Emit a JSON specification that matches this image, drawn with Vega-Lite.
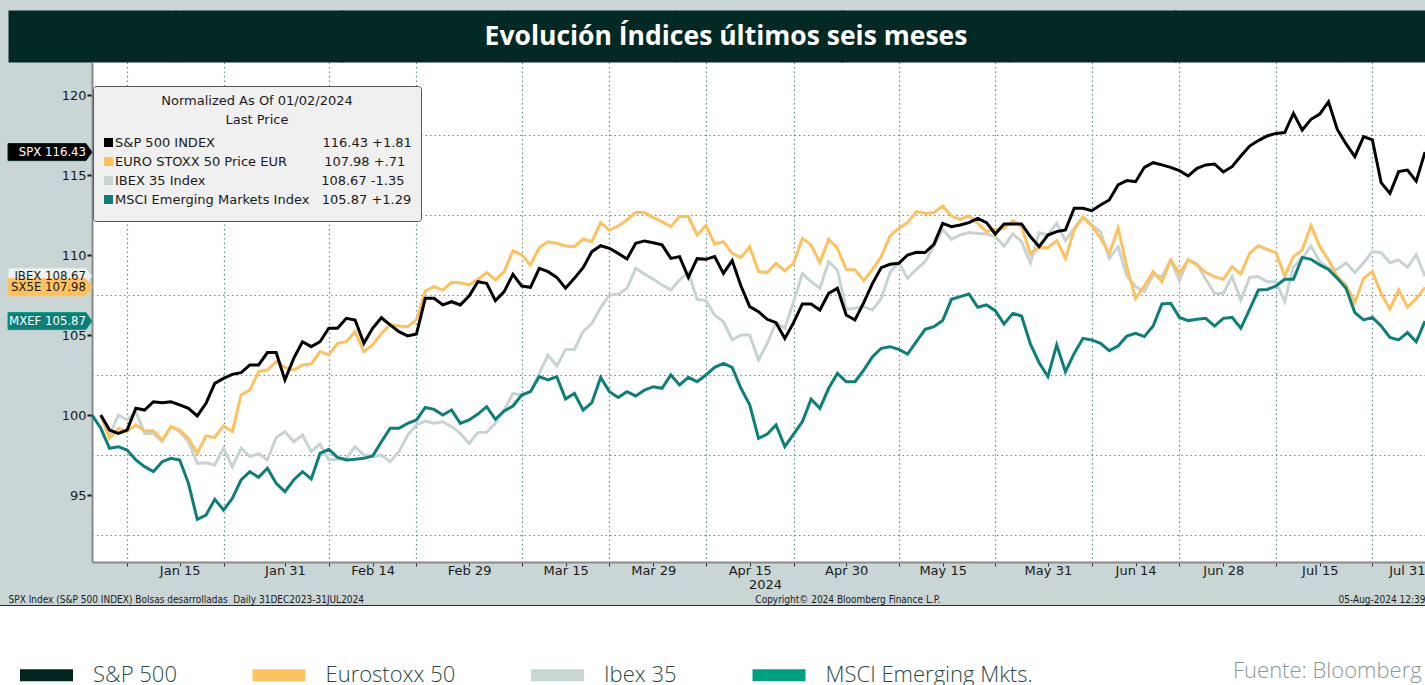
{
  "$schema": "https://vega.github.io/schema/vega-lite/v6.json",
  "width": 1333,
  "height": 500,
  "autosize": {"type": "none"},
  "padding": {"left": 92, "top": 62, "right": 0, "bottom": 123},
  "background": "#c9d6d5",
  "config": {"view": {"fill": "#ffffff", "stroke": null}, "font": "DejaVu Sans"},
  "data": {"values": [
    {"d":"2024-01-01","MXEF":100},
    {"d":"2024-01-02","SPX":100,"SX5E":100,"IBEX":100,"MXEF":99.17},
    {"d":"2024-01-03","SPX":99.06,"SX5E":98.54,"IBEX":98.75,"MXEF":97.92},
    {"d":"2024-01-04","SPX":98.85,"SX5E":99.17,"IBEX":100.0,"MXEF":98.02},
    {"d":"2024-01-05","SPX":99.06,"SX5E":98.96,"IBEX":99.69,"MXEF":97.81},
    {"d":"2024-01-08","SPX":100.42,"SX5E":99.38,"IBEX":100.21,"MXEF":97.19},
    {"d":"2024-01-09","SPX":100.31,"SX5E":99.02,"IBEX":98.85,"MXEF":96.77},
    {"d":"2024-01-10","SPX":100.83,"SX5E":99.02,"IBEX":98.85,"MXEF":96.46},
    {"d":"2024-01-11","SPX":100.77,"SX5E":98.44,"IBEX":98.33,"MXEF":97.08},
    {"d":"2024-01-12","SPX":100.83,"SX5E":99.27,"IBEX":99.27,"MXEF":97.29},
    {"d":"2024-01-15","SPX":100.63,"SX5E":99.06,"IBEX":98.96,"MXEF":97.19},
    {"d":"2024-01-16","SPX":100.42,"SX5E":98.54,"IBEX":98.33,"MXEF":95.73},
    {"d":"2024-01-17","SPX":99.94,"SX5E":97.6,"IBEX":96.98,"MXEF":93.48},
    {"d":"2024-01-18","SPX":100.73,"SX5E":98.69,"IBEX":97.02,"MXEF":93.75},
    {"d":"2024-01-19","SPX":101.98,"SX5E":98.6,"IBEX":96.88,"MXEF":94.73},
    {"d":"2024-01-22","SPX":102.29,"SX5E":99.33,"IBEX":97.92,"MXEF":94.06},
    {"d":"2024-01-23","SPX":102.54,"SX5E":98.96,"IBEX":96.77,"MXEF":94.79},
    {"d":"2024-01-24","SPX":102.65,"SX5E":101.25,"IBEX":97.92,"MXEF":95.94},
    {"d":"2024-01-25","SPX":103.13,"SX5E":101.56,"IBEX":97.4,"MXEF":96.46},
    {"d":"2024-01-26","SPX":103.13,"SX5E":102.71,"IBEX":97.6,"MXEF":96.1},
    {"d":"2024-01-29","SPX":103.9,"SX5E":102.81,"IBEX":97.19,"MXEF":96.67},
    {"d":"2024-01-30","SPX":103.9,"SX5E":103.33,"IBEX":98.6,"MXEF":95.73},
    {"d":"2024-01-31","SPX":102.19,"SX5E":102.98,"IBEX":98.96,"MXEF":95.21},
    {"d":"2024-02-01","SPX":103.54,"SX5E":102.81,"IBEX":98.33,"MXEF":95.94},
    {"d":"2024-02-02","SPX":104.58,"SX5E":103.13,"IBEX":98.75,"MXEF":96.46},
    {"d":"2024-02-05","SPX":104.27,"SX5E":103.19,"IBEX":97.71,"MXEF":96.0},
    {"d":"2024-02-06","SPX":104.58,"SX5E":103.96,"IBEX":98.19,"MXEF":97.6},
    {"d":"2024-02-07","SPX":105.42,"SX5E":103.75,"IBEX":97.19,"MXEF":97.85},
    {"d":"2024-02-08","SPX":105.42,"SX5E":104.48,"IBEX":97.23,"MXEF":97.35},
    {"d":"2024-02-09","SPX":106.04,"SX5E":104.58,"IBEX":97.29,"MXEF":97.19},
    {"d":"2024-02-12","SPX":105.94,"SX5E":105.21,"IBEX":98.02,"MXEF":97.23},
    {"d":"2024-02-13","SPX":104.48,"SX5E":103.96,"IBEX":97.5,"MXEF":97.29},
    {"d":"2024-02-14","SPX":105.42,"SX5E":104.38,"IBEX":97.4,"MXEF":97.44},
    {"d":"2024-02-15","SPX":106.08,"SX5E":105.1,"IBEX":97.5,"MXEF":98.33},
    {"d":"2024-02-16","SPX":105.63,"SX5E":105.63,"IBEX":97.08,"MXEF":99.17},
    {"d":"2024-02-19","SPX":105.21,"SX5E":105.56,"IBEX":97.71,"MXEF":99.17},
    {"d":"2024-02-20","SPX":104.94,"SX5E":105.52,"IBEX":98.75,"MXEF":99.48},
    {"d":"2024-02-21","SPX":105.06,"SX5E":105.94,"IBEX":99.38,"MXEF":99.69},
    {"d":"2024-02-22","SPX":107.29,"SX5E":107.75,"IBEX":99.62,"MXEF":100.47},
    {"d":"2024-02-23","SPX":107.29,"SX5E":108.02,"IBEX":99.48,"MXEF":100.35},
    {"d":"2024-02-26","SPX":106.88,"SX5E":107.81,"IBEX":99.58,"MXEF":100.0},
    {"d":"2024-02-27","SPX":107.08,"SX5E":108.29,"IBEX":99.27,"MXEF":100.31},
    {"d":"2024-02-28","SPX":106.88,"SX5E":108.27,"IBEX":98.85,"MXEF":99.48},
    {"d":"2024-02-29","SPX":107.44,"SX5E":108.13,"IBEX":98.23,"MXEF":99.69},
    {"d":"2024-03-01","SPX":108.33,"SX5E":108.48,"IBEX":98.9,"MXEF":100.06},
    {"d":"2024-03-04","SPX":108.23,"SX5E":108.9,"IBEX":98.92,"MXEF":100.52},
    {"d":"2024-03-05","SPX":107.15,"SX5E":108.44,"IBEX":99.48,"MXEF":99.73},
    {"d":"2024-03-06","SPX":107.71,"SX5E":108.96,"IBEX":100.31,"MXEF":100.25},
    {"d":"2024-03-07","SPX":108.79,"SX5E":110.27,"IBEX":101.35,"MXEF":100.56},
    {"d":"2024-03-08","SPX":108.06,"SX5E":110.0,"IBEX":101.25,"MXEF":101.25},
    {"d":"2024-03-11","SPX":107.98,"SX5E":109.38,"IBEX":101.46,"MXEF":101.46},
    {"d":"2024-03-12","SPX":109.17,"SX5E":110.46,"IBEX":102.6,"MXEF":102.4},
    {"d":"2024-03-13","SPX":108.96,"SX5E":110.83,"IBEX":103.75,"MXEF":102.19},
    {"d":"2024-03-14","SPX":108.6,"SX5E":110.73,"IBEX":103.06,"MXEF":102.4},
    {"d":"2024-03-15","SPX":107.92,"SX5E":110.56,"IBEX":104.1,"MXEF":101.0},
    {"d":"2024-03-18","SPX":108.54,"SX5E":110.52,"IBEX":104.1,"MXEF":101.35},
    {"d":"2024-03-19","SPX":109.21,"SX5E":111.0,"IBEX":105.21,"MXEF":100.31},
    {"d":"2024-03-20","SPX":110.21,"SX5E":110.83,"IBEX":105.73,"MXEF":100.77},
    {"d":"2024-03-21","SPX":110.58,"SX5E":112.02,"IBEX":106.71,"MXEF":102.35},
    {"d":"2024-03-22","SPX":110.42,"SX5E":111.56,"IBEX":107.5,"MXEF":101.46},
    {"d":"2024-03-25","SPX":110.1,"SX5E":111.81,"IBEX":107.54,"MXEF":101.1},
    {"d":"2024-03-26","SPX":109.75,"SX5E":112.19,"IBEX":107.92,"MXEF":101.46},
    {"d":"2024-03-27","SPX":110.73,"SX5E":112.65,"IBEX":109.17,"MXEF":101.19},
    {"d":"2024-03-28","SPX":110.88,"SX5E":112.65,"IBEX":108.81,"MXEF":101.56},
    {"d":"2024-03-29","SPX":110.77,"SX5E":112.35,"IBEX":108.48,"MXEF":101.77},
    {"d":"2024-04-01","SPX":110.63,"SX5E":112.08,"IBEX":108.13,"MXEF":101.67},
    {"d":"2024-04-02","SPX":109.79,"SX5E":111.77,"IBEX":107.81,"MXEF":102.5},
    {"d":"2024-04-03","SPX":109.9,"SX5E":112.4,"IBEX":108.44,"MXEF":101.88},
    {"d":"2024-04-04","SPX":108.6,"SX5E":112.4,"IBEX":108.9,"MXEF":102.35},
    {"d":"2024-04-05","SPX":109.77,"SX5E":111.25,"IBEX":107.23,"MXEF":102.08},
    {"d":"2024-04-08","SPX":109.73,"SX5E":111.83,"IBEX":107.15,"MXEF":102.5},
    {"d":"2024-04-09","SPX":109.9,"SX5E":110.69,"IBEX":106.25,"MXEF":102.98},
    {"d":"2024-04-10","SPX":108.85,"SX5E":110.83,"IBEX":105.83,"MXEF":103.23},
    {"d":"2024-04-11","SPX":109.65,"SX5E":110.1,"IBEX":104.69,"MXEF":102.98},
    {"d":"2024-04-12","SPX":108.06,"SX5E":109.85,"IBEX":105.0,"MXEF":101.67},
    {"d":"2024-04-15","SPX":106.77,"SX5E":110.52,"IBEX":105.0,"MXEF":100.63},
    {"d":"2024-04-16","SPX":106.46,"SX5E":108.96,"IBEX":103.44,"MXEF":98.54},
    {"d":"2024-04-17","SPX":105.98,"SX5E":108.9,"IBEX":104.48,"MXEF":98.81},
    {"d":"2024-04-18","SPX":105.77,"SX5E":109.48,"IBEX":105.77,"MXEF":99.38},
    {"d":"2024-04-19","SPX":104.79,"SX5E":109.02,"IBEX":105.42,"MXEF":98.02},
    {"d":"2024-04-22","SPX":105.77,"SX5E":109.48,"IBEX":107.08,"MXEF":98.81},
    {"d":"2024-04-23","SPX":106.94,"SX5E":111.04,"IBEX":108.85,"MXEF":99.58},
    {"d":"2024-04-24","SPX":106.94,"SX5E":110.63,"IBEX":108.33,"MXEF":100.98},
    {"d":"2024-04-25","SPX":106.56,"SX5E":109.52,"IBEX":107.92,"MXEF":100.42},
    {"d":"2024-04-26","SPX":107.6,"SX5E":110.98,"IBEX":109.58,"MXEF":101.67},
    {"d":"2024-04-29","SPX":107.92,"SX5E":110.42,"IBEX":109.06,"MXEF":102.6},
    {"d":"2024-04-30","SPX":106.25,"SX5E":109.1,"IBEX":106.6,"MXEF":102.08},
    {"d":"2024-05-01","SPX":105.94,"SX5E":109.06,"IBEX":106.67,"MXEF":102.08},
    {"d":"2024-05-02","SPX":107.02,"SX5E":108.4,"IBEX":106.77,"MXEF":102.81},
    {"d":"2024-05-03","SPX":108.23,"SX5E":109.1,"IBEX":106.56,"MXEF":103.65},
    {"d":"2024-05-06","SPX":109.21,"SX5E":109.9,"IBEX":107.29,"MXEF":104.17},
    {"d":"2024-05-07","SPX":109.42,"SX5E":111.19,"IBEX":108.9,"MXEF":104.27},
    {"d":"2024-05-08","SPX":109.48,"SX5E":111.67,"IBEX":109.52,"MXEF":104.1},
    {"d":"2024-05-09","SPX":110.0,"SX5E":112.02,"IBEX":108.54,"MXEF":103.81},
    {"d":"2024-05-10","SPX":110.17,"SX5E":112.71,"IBEX":109.1,"MXEF":104.58},
    {"d":"2024-05-13","SPX":110.15,"SX5E":112.6,"IBEX":109.58,"MXEF":105.35},
    {"d":"2024-05-14","SPX":110.67,"SX5E":112.65,"IBEX":110.56,"MXEF":105.52},
    {"d":"2024-05-15","SPX":111.98,"SX5E":113.06,"IBEX":111.6,"MXEF":105.9},
    {"d":"2024-05-16","SPX":111.77,"SX5E":112.44,"IBEX":110.98,"MXEF":107.23},
    {"d":"2024-05-17","SPX":111.88,"SX5E":112.23,"IBEX":111.25,"MXEF":107.4},
    {"d":"2024-05-20","SPX":112.02,"SX5E":112.44,"IBEX":111.4,"MXEF":107.56},
    {"d":"2024-05-21","SPX":112.29,"SX5E":111.98,"IBEX":111.35,"MXEF":106.73},
    {"d":"2024-05-22","SPX":112.02,"SX5E":111.46,"IBEX":111.31,"MXEF":106.88},
    {"d":"2024-05-23","SPX":111.31,"SX5E":111.6,"IBEX":111.15,"MXEF":106.52},
    {"d":"2024-05-24","SPX":111.94,"SX5E":111.67,"IBEX":110.56,"MXEF":105.69},
    {"d":"2024-05-27","SPX":111.94,"SX5E":112.15,"IBEX":111.31,"MXEF":106.35},
    {"d":"2024-05-28","SPX":111.94,"SX5E":111.77,"IBEX":110.83,"MXEF":106.19},
    {"d":"2024-05-29","SPX":111.15,"SX5E":110.06,"IBEX":109.52,"MXEF":104.44},
    {"d":"2024-05-30","SPX":110.52,"SX5E":110.48,"IBEX":111.4,"MXEF":103.27},
    {"d":"2024-05-31","SPX":111.25,"SX5E":110.46,"IBEX":111.25,"MXEF":102.4},
    {"d":"2024-06-03","SPX":111.46,"SX5E":110.9,"IBEX":111.98,"MXEF":104.38},
    {"d":"2024-06-04","SPX":111.56,"SX5E":109.79,"IBEX":110.9,"MXEF":102.71},
    {"d":"2024-06-05","SPX":112.92,"SX5E":111.6,"IBEX":111.67,"MXEF":103.85},
    {"d":"2024-06-06","SPX":112.92,"SX5E":112.35,"IBEX":112.4,"MXEF":104.79},
    {"d":"2024-06-07","SPX":112.77,"SX5E":111.83,"IBEX":111.88,"MXEF":104.69},
    {"d":"2024-06-10","SPX":113.13,"SX5E":111.04,"IBEX":111.46,"MXEF":104.48},
    {"d":"2024-06-11","SPX":113.44,"SX5E":110.1,"IBEX":109.79,"MXEF":104.02},
    {"d":"2024-06-12","SPX":114.38,"SX5E":111.67,"IBEX":110.52,"MXEF":104.31},
    {"d":"2024-06-13","SPX":114.65,"SX5E":109.27,"IBEX":108.69,"MXEF":104.94},
    {"d":"2024-06-14","SPX":114.58,"SX5E":107.29,"IBEX":108.02,"MXEF":105.1},
    {"d":"2024-06-17","SPX":115.48,"SX5E":108.06,"IBEX":107.71,"MXEF":104.9},
    {"d":"2024-06-18","SPX":115.77,"SX5E":108.96,"IBEX":108.75,"MXEF":105.56},
    {"d":"2024-06-19","SPX":115.63,"SX5E":108.33,"IBEX":108.65,"MXEF":106.94},
    {"d":"2024-06-20","SPX":115.48,"SX5E":109.69,"IBEX":109.69,"MXEF":106.98},
    {"d":"2024-06-21","SPX":115.27,"SX5E":108.85,"IBEX":108.4,"MXEF":106.1},
    {"d":"2024-06-24","SPX":114.94,"SX5E":109.69,"IBEX":109.73,"MXEF":105.9},
    {"d":"2024-06-25","SPX":115.42,"SX5E":109.38,"IBEX":109.44,"MXEF":105.98},
    {"d":"2024-06-26","SPX":115.63,"SX5E":108.9,"IBEX":108.48,"MXEF":106.04},
    {"d":"2024-06-27","SPX":115.69,"SX5E":108.65,"IBEX":107.6,"MXEF":105.56},
    {"d":"2024-06-28","SPX":115.19,"SX5E":108.48,"IBEX":107.6,"MXEF":106.04},
    {"d":"2024-07-01","SPX":115.52,"SX5E":109.27,"IBEX":108.65,"MXEF":106.1},
    {"d":"2024-07-02","SPX":116.19,"SX5E":108.81,"IBEX":107.19,"MXEF":105.42},
    {"d":"2024-07-03","SPX":116.81,"SX5E":110.1,"IBEX":108.6,"MXEF":106.6},
    {"d":"2024-07-04","SPX":117.15,"SX5E":110.58,"IBEX":108.65,"MXEF":107.81},
    {"d":"2024-07-05","SPX":117.44,"SX5E":110.35,"IBEX":108.33,"MXEF":107.85},
    {"d":"2024-07-08","SPX":117.6,"SX5E":110.15,"IBEX":108.33,"MXEF":108.06},
    {"d":"2024-07-09","SPX":117.65,"SX5E":108.69,"IBEX":107.08,"MXEF":108.48},
    {"d":"2024-07-10","SPX":118.85,"SX5E":109.9,"IBEX":109.27,"MXEF":108.48},
    {"d":"2024-07-11","SPX":117.81,"SX5E":110.31,"IBEX":109.79,"MXEF":109.85},
    {"d":"2024-07-12","SPX":118.48,"SX5E":111.83,"IBEX":110.56,"MXEF":109.73},
    {"d":"2024-07-15","SPX":118.81,"SX5E":110.52,"IBEX":109.58,"MXEF":109.38},
    {"d":"2024-07-16","SPX":119.58,"SX5E":109.69,"IBEX":109.17,"MXEF":109.1},
    {"d":"2024-07-17","SPX":117.85,"SX5E":108.65,"IBEX":109.1,"MXEF":108.54},
    {"d":"2024-07-18","SPX":116.94,"SX5E":108.13,"IBEX":109.52,"MXEF":107.92},
    {"d":"2024-07-19","SPX":116.15,"SX5E":107.02,"IBEX":108.9,"MXEF":106.4},
    {"d":"2024-07-22","SPX":117.4,"SX5E":108.54,"IBEX":109.52,"MXEF":105.94},
    {"d":"2024-07-23","SPX":117.19,"SX5E":108.96,"IBEX":110.21,"MXEF":106.1},
    {"d":"2024-07-24","SPX":114.52,"SX5E":107.6,"IBEX":110.15,"MXEF":105.56},
    {"d":"2024-07-25","SPX":113.85,"SX5E":106.63,"IBEX":109.52,"MXEF":104.85},
    {"d":"2024-07-26","SPX":115.21,"SX5E":107.81,"IBEX":109.69,"MXEF":104.69},
    {"d":"2024-07-29","SPX":115.31,"SX5E":106.73,"IBEX":109.23,"MXEF":105.15},
    {"d":"2024-07-30","SPX":114.62,"SX5E":107.27,"IBEX":110.02,"MXEF":104.58},
    {"d":"2024-07-31","SPX":116.43,"SX5E":107.98,"IBEX":108.67,"MXEF":105.87}
  ]},
  "transform": [{"fold": ["IBEX", "SX5E", "MXEF", "SPX"], "as": ["key", "value"]}],
  "encoding": {
    "y": {
      "field": "value", "type": "quantitative",
      "scale": {"domain": [90.8125, 122.0625], "nice": false, "zero": false},
      "axis": {
        "values": [92.5, 95, 97.5, 100, 102.5, 105, 107.5, 110, 112.5, 115, 117.5, 120],
        "labelExpr": "datum.value % 5 == 0 ? format(datum.value, 'd') : ''",
        "labelFont": "DejaVu Sans", "labelFontSize": 13, "labelColor": "#1a1a1a", "labelPadding": 1, "labelOverlap": false,
        "ticks": true, "tickSize": 5, "tickWidth": 2, "tickColor": "#1a1a1a",
        "tickOpacity": {"condition": {"test": "datum.value % 5 == 0", "value": 1}, "value": 0},
        "grid": true, "gridColor": "#5f918d", "gridDash": [1.5, 3], "gridWidth": 1.2,
        "gridOpacity": {"condition": {"test": "datum.value % 5 != 0", "value": 1}, "value": 0},
        "domain": true, "domainColor": "#8a8a8a", "domainWidth": 2,
        "title": "SPX Index (S&P 500 INDEX) Bolsas desarrolladas\u00a0 Daily 31DEC2023-31JUL2024",
        "titleAngle": 0, "titleX": -84, "titleY": 537, "titleAlign": "left", "titleBaseline": "middle",
        "titleFont": "DejaVu Sans Condensed", "titleFontSize": 10, "titleFontWeight": "normal", "titleColor": "#1a1a1a"
      }
    }
  },
  "layer": [
    {
      "mark": {"type": "line", "strokeWidth": 3},
      "encoding": {
        "x": {
          "field": "d", "type": "ordinal", "scale": {"type": "point", "padding": 0},
          "axis": {
            "values": ["2024-01-05","2024-01-15","2024-01-22","2024-01-31","2024-02-07","2024-02-14","2024-02-21","2024-02-29","2024-03-08","2024-03-15","2024-03-22","2024-03-29","2024-04-08","2024-04-15","2024-04-22","2024-04-30","2024-05-08","2024-05-15","2024-05-23","2024-05-31","2024-06-07","2024-06-14","2024-06-21","2024-06-28","2024-07-08","2024-07-15","2024-07-23","2024-07-31"],
            "labelExpr": "indexof(['2024-01-15','2024-01-31','2024-02-14','2024-02-29','2024-03-15','2024-03-29','2024-04-15','2024-04-30','2024-05-15','2024-05-31','2024-06-14','2024-06-28','2024-07-15','2024-07-31'], datum.value) >= 0 ? timeFormat(toDate(datum.value + 'T00:00:00'), '%b %d') : ''",
            "labelFont": "DejaVu Sans", "labelFontSize": 13, "labelColor": "#1a1a1a", "labelAngle": 0, "labelPadding": -2,
            "labelOverlap": false, "labelFlush": true,
            "ticks": true, "tickSize": 4, "tickWidth": 1, "tickColor": "#333333",
            "grid": true, "gridColor": "#5f918d", "gridDash": [1.5, 3], "gridWidth": 1.2,
            "gridOpacity": {"condition": {"test": "indexof(['2024-01-05','2024-01-22','2024-02-07','2024-02-21','2024-03-08','2024-03-22','2024-04-08','2024-04-22','2024-05-08','2024-05-23','2024-06-07','2024-06-21','2024-07-08','2024-07-23'], datum.value) >= 0", "value": 1}, "value": 0},
            "domain": true, "domainColor": "#8a8a8a", "domainWidth": 2,
            "title": "2024", "titleX": 673, "titleY": 22, "titleBaseline": "middle", "titleAlign": "center",
            "titleFont": "DejaVu Sans", "titleFontSize": 13, "titleFontWeight": "normal", "titleColor": "#1a1a1a"
          }
        },
        "color": {
          "field": "key", "type": "nominal",
          "scale": {"domain": ["SPX", "SX5E", "IBEX", "MXEF"], "range": ["#000000", "#ffc15e", "#c8d4d2", "#0c7f79"]},
          "legend": {
            "orient": "none", "legendX": 1, "legendY": 24, "direction": "vertical",
            "fillColor": "#f0f0f0", "strokeColor": "#555555", "cornerRadius": 3, "padding": 9,
            "symbolType": "square", "symbolSize": 16, "symbolStrokeWidth": 5, "symbolFillColor": "transparent", "symbolOpacity": 1,
            "labelFont": "DejaVu Sans", "labelFontSize": 13, "labelColor": "#1a1a1a", "labelLimit": 600, "labelOffset": 0,
            "rowPadding": -7,
            "labelExpr": "datum.value == 'SPX' ? 'S&P 500 INDEX\u00a0\u00a0\u00a0\u00a0\u00a0\u00a0\u00a0\u00a0\u00a0\u00a0\u00a0\u00a0\u00a0\u00a0\u00a0\u00a0\u00a0\u00a0\u00a0\u00a0\u00a0\u00a0\u00a0\u00a0\u00a0\u00a0116.43\u00a0+1.81' : datum.value == 'SX5E' ? 'EURO STOXX 50 Price EUR\u00a0\u00a0\u00a0\u00a0\u00a0\u00a0\u00a0\u00a0\u00a0107.98\u00a0+.71' : datum.value == 'IBEX' ? 'IBEX 35 Index\u00a0\u00a0\u00a0\u00a0\u00a0\u00a0\u00a0\u00a0\u00a0\u00a0\u00a0\u00a0\u00a0\u00a0\u00a0\u00a0\u00a0\u00a0\u00a0\u00a0\u00a0\u00a0\u00a0\u00a0\u00a0\u00a0\u00a0\u00a0108.67\u00a0-1.35' : 'MSCI Emerging Markets Index\u00a0\u00a0\u00a0105.87\u00a0+1.29'",
            "title": ["Normalized As Of 01/02/2024", "Last Price"],
            "titleAnchor": "middle", "titleAlign": "center", "titleFont": "DejaVu Sans", "titleFontSize": 13, "titleLimit": 500,
            "titleFontWeight": "normal", "titleColor": "#1a1a1a", "titleLineHeight": 19, "titlePadding": 9
          }
        }
      }
    },
    {
      "transform": [{"filter": "datum.d == '2024-07-31'"}],
      "mark": {"type": "point", "filled": true, "opacity": 1, "shape": "M0,0L-6,-8.5H-84V8.5H-6Z", "size": 4, "strokeWidth": 1},
      "encoding": {
        "x": {
          "datum": "2024-01-01", "type": "ordinal",
          "axis": {
            "orient": "top",
            "values": ["2024-01-01","2024-01-26","2024-02-22","2024-03-20","2024-04-16","2024-05-13","2024-06-07","2024-07-04","2024-07-31"],
            "ticks": true, "tickSize": 52, "tickWidth": 168, "tickColor": "#032924", "tickCap": "butt",
            "labels": false, "domain": false, "grid": false,
            "title": "Evolución Índices últimos seis meses",
            "titleX": 633.5, "titleY": -26, "titleBaseline": "middle", "titleAlign": "center",
            "titleFont": "Open Sans", "titleFontSize": 26.5, "titleFontWeight": "bold", "titleColor": "#ffffff"
          }
        },
        "fill": {
          "field": "key", "type": "nominal",
          "scale": {"domain": ["SPX", "SX5E", "IBEX", "MXEF"], "range": ["#000000", "#ffc15e", "#eef2f2", "#0c7f79"]},
          "legend": null
        },
        "stroke": {
          "field": "key", "type": "nominal",
          "scale": {"range": ["#c8d6d4", "#00a083", "#02261f", "#fdc35f"]},
          "legend": {
            "values": ["SPX", "SX5E", "IBEX", "MXEF"],
            "orient": "none", "legendX": -115.5, "legendY": 543, "direction": "horizontal",
            "fillColor": "#ffffff", "strokeColor": "#1b3a35", "padding": 37.5,
            "symbolType": "M-1,0H1", "symbolSize": 2809, "symbolStrokeWidth": 12, "symbolFillColor": "transparent", "symbolOpacity": 1,
            "labelFont": "Open Sans", "labelFontWeight": 300, "labelFontSize": 22, "labelColor": "#2b4a45", "labelOffset": 14, "labelLimit": 500,
            "columnPadding": 51.5,
            "labelExpr": "datum.value == 'SPX' ? 'S&P 500' : datum.value == 'SX5E' ? 'Eurostoxx 50' : datum.value == 'IBEX' ? 'Ibex 35' : 'MSCI Emerging Mkts.'",
            "title": "Fuente: Bloomberg", "titleOrient": "right", "titlePadding": 200, "titleLimit": 400,
            "titleFont": "Open Sans", "titleFontWeight": 300, "titleFontSize": 22, "titleColor": "#8b9997",
            "titleAnchor": "middle", "titleBaseline": "middle"
          }
        }
      }
    },
    {
      "transform": [{"filter": "datum.d == '2024-07-31'"}],
      "mark": {"type": "text", "align": "right", "baseline": "middle", "dx": -50.7, "font": "DejaVu Sans Condensed", "fontSize": 13},
      "encoding": {
        "x": {
          "datum": "2024-01-01", "type": "ordinal",
          "axis": {
            "orient": "bottom", "domain": false, "ticks": false, "labels": false, "grid": false,
            "title": "Copyright© 2024 Bloomberg Finance L.P.", "titleX": 848, "titleY": 37,
            "titleAlign": "right", "titleBaseline": "middle",
            "titleFont": "DejaVu Sans Condensed", "titleFontSize": 10, "titleFontWeight": "normal", "titleColor": "#1a1a1a"
          }
        },
        "text": {"field": "key"},
        "color": {"condition": {"test": "datum.key == 'SPX' || datum.key == 'MXEF'", "value": "#ffffff"}, "value": "#1a1a1a"}
      }
    },
    {
      "transform": [{"filter": "datum.d == '2024-07-31'"}],
      "mark": {"type": "text", "align": "right", "baseline": "middle", "dx": -6, "font": "DejaVu Sans Condensed", "fontSize": 13},
      "encoding": {
        "x": {
          "datum": "2024-01-01", "type": "ordinal",
          "axis": {
            "orient": "bottom", "domain": false, "ticks": false, "labels": false, "grid": false,
            "title": "05-Aug-2024 12:39", "titleX": 1333, "titleY": 37,
            "titleAlign": "right", "titleBaseline": "middle",
            "titleFont": "DejaVu Sans Condensed", "titleFontSize": 10, "titleFontWeight": "normal", "titleColor": "#1a1a1a"
          }
        },
        "text": {"field": "value", "type": "quantitative", "format": ".2f"},
        "color": {"condition": {"test": "datum.key == 'SPX' || datum.key == 'MXEF'", "value": "#ffffff"}, "value": "#1a1a1a"}
      }
    }
  ],
  "resolve": {"axis": {"x": "independent"}}
}
